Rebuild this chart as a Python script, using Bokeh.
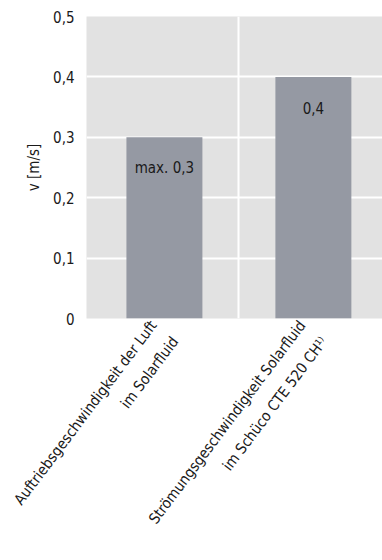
from bokeh.plotting import figure
from bokeh.models import Range1d, FixedTicker, Label, ColumnDataSource, Title
from bokeh.embed import file_html
from bokeh.resources import INLINE
import math

# --- data ---
categories = [
    "Auftriebsgeschwindigkeit der Luft\nim Solarfluid",
    "Strömungsgeschwindigkeit Solarfluid\nim Schüco CTE 520 CH\u00b9\u207e",
]
values = [0.3, 0.4]
value_prefixes = ["max. ", ""]
y_ticks = [0, 0.1, 0.2, 0.3, 0.4, 0.5]
y_tick_labels = ["0", "0,1", "0,2", "0,3", "0,4", "0,5"]
y_label = "v [m/s]"

FONT = "'Liberation Sans Narrow', 'Arial Narrow', 'DejaVu Sans Condensed', sans-serif"
TEXT_COLOR = "#1a1a1a"
BAR_COLOR = "#9599a3"
BG_COLOR = "#e2e2e2"

positions = [i + 0.5 for i in range(len(values))]

p = figure(
    width=382, height=560,
    x_range=Range1d(-0.023, 1.964),
    y_range=Range1d(0, 0.5),
    output_backend="svg", toolbar_location=None,
    min_border_left=86, min_border_right=0,
    min_border_top=16, min_border_bottom=242,
)
p.background_fill_color = BG_COLOR
p.border_fill_color = "white"
p.outline_line_color = None

src = ColumnDataSource(dict(x=positions, top=values))
p.vbar(x="x", top="top", width=0.51, bottom=0, source=src,
       fill_color=BAR_COLOR, line_color=None)

# x axis: rotated two-line category names
xa = p.xaxis[0]
xa.ticker = FixedTicker(ticks=positions)
xa.major_label_overrides = dict(zip(positions, categories))
xa.major_label_orientation = math.radians(53)
xa.axis_line_color = None
xa.major_tick_line_color = None
xa.minor_tick_line_color = None
xa.major_tick_out = 0
xa.major_tick_in = 0
xa.major_label_standoff = 12
xa.major_label_text_font = FONT
xa.major_label_text_font_size = "15px"
xa.major_label_text_line_height = 1.5
xa.major_label_text_color = TEXT_COLOR
xa.major_label_text_align = "right"

# grid
p.xgrid.ticker = FixedTicker(ticks=[1.0])
p.ygrid.ticker = FixedTicker(ticks=y_ticks[:-1])
for g in (p.xgrid[0], p.ygrid[0]):
    g.grid_line_color = "white"
    g.grid_line_width = 2

# y axis
ya = p.yaxis[0]
ya.ticker = FixedTicker(ticks=y_ticks)
ya.major_label_overrides = dict(zip(y_ticks, y_tick_labels))
ya.axis_line_color = None
ya.major_tick_line_color = None
ya.minor_tick_line_color = None
ya.major_tick_out = 0
ya.major_tick_in = 0
ya.major_label_standoff = 12
ya.major_label_text_font = FONT
ya.major_label_text_font_size = "15px"
ya.major_label_text_color = TEXT_COLOR

# axis title, placed a little above the centre of the left edge
p.add_layout(Title(text=y_label, align="center", offset=28, standoff=16,
                   text_font=FONT, text_font_size="15px", text_font_style="normal",
                   text_color=TEXT_COLOR), "left")

# value labels inside the bars
for xc, v, pre in zip(positions, values, value_prefixes):
    txt = pre + ("%g" % v).replace(".", ",")
    p.add_layout(Label(x=xc, y=v, y_offset=-31, text=txt,
                       text_align="center", text_baseline="middle",
                       text_font=FONT, text_font_size="15px", text_color=TEXT_COLOR))

open("out.html", "w").write(file_html(p, INLINE))
